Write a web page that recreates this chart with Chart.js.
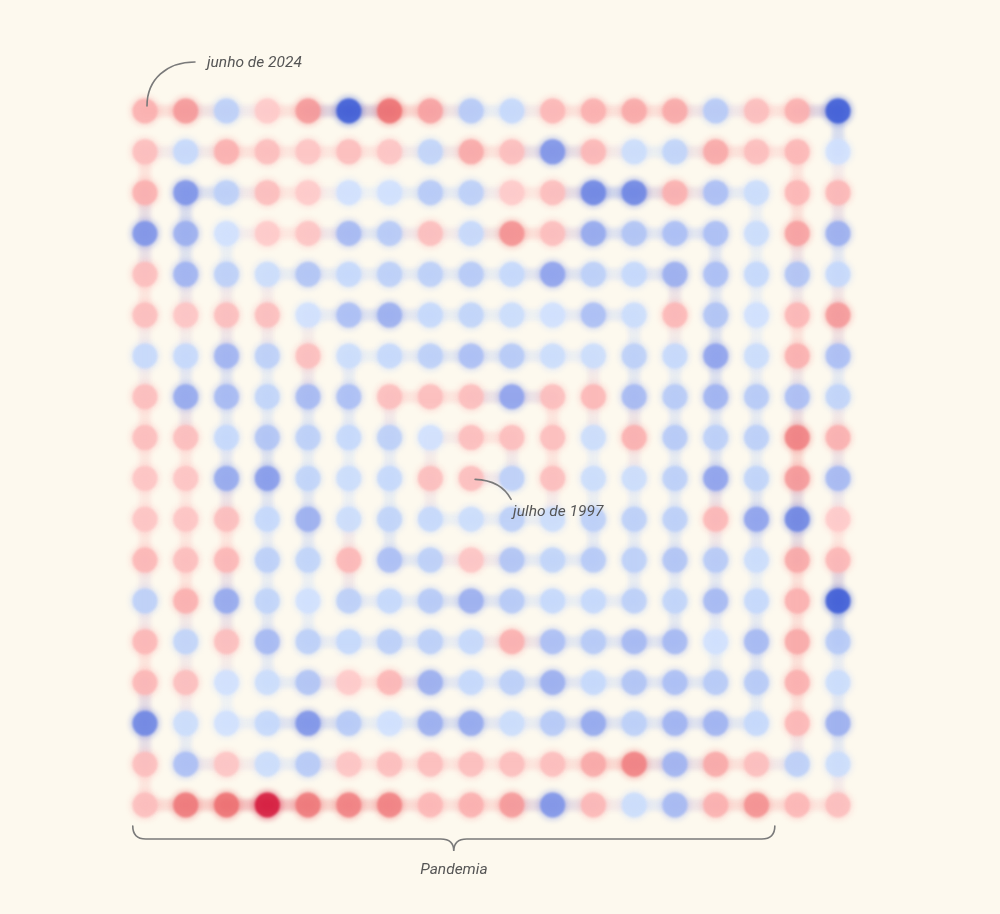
<!DOCTYPE html>
<html><head><meta charset="utf-8">
<script src="https://cdn.jsdelivr.net/npm/chart.js@4.4.1/dist/chart.umd.min.js"></script>
<style>
html,body{margin:0;padding:0;background:#fdf9ee;}
#wrap{position:relative;width:1000px;height:914px;overflow:hidden;}
#c{position:absolute;left:0;top:0;}
.lbl{position:absolute;font-family:Roboto,"Noto Sans",sans-serif;font-style:italic;font-size:15.5px;color:#555;white-space:nowrap;line-height:16px;}
</style></head><body>
<div id="wrap"><canvas id="c" width="1000" height="914"></canvas>
<div class="lbl" id="lblEnd">junho de 2024</div>
<div class="lbl" id="lblStart">julho de 1997</div>
<div class="lbl" id="lblPand">Pandemia</div>
</div>
<script>
// Labels
const firstMonth = "julho de 1997";
const lastMonth = "junho de 2024";
const pandemicLabel = "Pandemia";
// pandemic span, in grid columns of the bottom row
const pandemicCols = [-0.3, 15.45];

// Monthly values, laid out by grid row (top to bottom), columns left to right.
// positive = red (above), negative = blue (below)
const row00 = [1.2, 1.5, -1.2, 0.8, 1.5, -3.0, 2.0, 1.4, -1.3, -1.0, 1.1, 1.2, 1.3, 1.3, -1.3, 1.0, 1.2, -3.0];
const row01 = [1.0, -1.0, 1.2, 1.0, 0.9, 1.0, 0.9, -1.1, 1.3, 1.0, -2.2, 1.1, -0.9, -1.1, 1.3, 1.0, 1.1, -0.8];
const row02 = [1.2, -2.2, -1.2, 1.0, 0.8, -0.8, -0.8, -1.3, -1.2, 0.8, 1.0, -2.4, -2.4, 1.2, -1.5, -0.9, 1.1, 1.1];
const row03 = [-2.2, -1.8, -0.8, 0.8, 0.9, -1.6, -1.3, 1.0, -1.0, 1.6, 1.0, -1.9, -1.4, -1.5, -1.5, -0.9, 1.4, -1.8];
const row04 = [1.0, -1.7, -1.2, -0.9, -1.4, -1.0, -1.2, -1.2, -1.3, -1.0, -2.0, -1.2, -1.0, -1.8, -1.5, -1.0, -1.4, -1.0];
const row05 = [1.0, 0.9, 1.0, 1.0, -0.8, -1.5, -1.8, -1.0, -1.1, -0.9, -0.8, -1.5, -0.9, 1.1, -1.4, -0.8, 1.1, 1.5];
const row06 = [-1.0, -1.0, -1.7, -1.2, 1.0, -0.9, -1.0, -1.2, -1.5, -1.3, -0.9, -0.9, -1.2, -1.0, -2.0, -0.9, 1.2, -1.5];
const row07 = [1.0, -1.9, -1.6, -1.1, -1.6, -1.5, 1.0, 1.0, 1.0, -2.0, 1.0, 1.1, -1.6, -1.3, -1.7, -1.3, -1.5, -1.1];
const row08 = [1.0, 1.0, -1.0, -1.4, -1.2, -1.0, -1.2, -0.8, 1.0, 1.0, 1.0, -0.9, 1.2, -1.3, -1.2, -1.2, 1.8, 1.2];
const row09 = [0.9, 0.9, -1.9, -2.1, -1.1, -0.9, -1.0, 1.0, 1.0, -1.2, 1.0, -0.9, -0.9, -1.2, -2.0, -1.1, 1.5, -1.6];
const row10 = [0.9, 0.9, 1.0, -1.0, -1.8, -0.9, -1.1, -1.0, -0.9, -1.2, -0.9, -1.2, -1.2, -1.2, 1.1, -2.0, -2.4, 0.8];
const row11 = [1.1, 1.0, 1.1, -1.2, -1.1, 1.1, -1.5, -1.2, 0.9, -1.4, -1.1, -1.3, -1.2, -1.4, -1.3, -0.9, 1.3, 1.1];
const row12 = [-1.2, 1.2, -1.9, -1.1, -0.8, -1.2, -1.0, -1.3, -1.8, -1.3, -1.0, -1.0, -1.2, -1.1, -1.6, -1.0, 1.2, -3.0];
const row13 = [1.1, -1.1, 1.0, -1.6, -1.2, -1.0, -1.2, -1.2, -1.0, 1.2, -1.5, -1.3, -1.6, -1.6, -0.8, -1.6, 1.3, -1.3];
const row14 = [1.1, 1.0, -0.8, -0.9, -1.4, 0.8, 1.1, -1.8, -1.0, -1.2, -1.8, -1.0, -1.4, -1.5, -1.3, -1.3, 1.2, -0.9];
const row15 = [-2.4, -0.9, -0.8, -1.0, -2.2, -1.3, -0.8, -1.8, -1.9, -0.9, -1.3, -1.9, -1.2, -1.7, -1.7, -1.0, 1.1, -1.8];
const row16 = [1.0, -1.5, 0.9, -0.9, -1.3, 0.9, 1.0, 1.0, 1.0, 1.0, 1.0, 1.3, 1.8, -1.7, 1.3, 1.0, -1.2, -0.9];
const row17 = [1.0, 1.9, 2.0, 3.0, 1.9, 1.8, 1.8, 1.1, 1.2, 1.5, -2.2, 1.1, -0.9, -1.6, 1.2, 1.6, 1.1, 1.0];

const grid = [row00,row01,row02,row03,row04,row05,row06,row07,row08,row09,row10,row11,row12,row13,row14,row15,row16,row17];
const N = grid.length;

// square spiral from the centre (first month) outward to the top-left corner (last month)
function spiralCells(n, sx, sy){
  const dirs=[[1,0],[0,-1],[-1,0],[0,1]];
  const cells=[[sx,sy]]; let x=sx,y=sy,seg=0;
  while(cells.length<n){
    const len=Math.floor(seg/2)+1, d=dirs[seg%4];
    for(let k=0;k<len && cells.length<n;k++){ x+=d[0]; y+=d[1]; cells.push([x,y]); }
    seg++;
  }
  return cells;
}
const cells = spiralCells(N*N, Math.floor((N-1)/2), N/2);
const series = cells.map(([c,r]) => ({x:c, y:r, v:grid[r][c]}));

// diverging colour scale
const posStops=[[0.7,[255,207,207]],[1.2,[250,174,174]],[2.0,[236,110,112]],[3.0,[212,22,58]]];
const negStops=[[0.7,[212,229,255]],[1.2,[186,206,248]],[2.0,[140,160,236]],[3.0,[58,90,214]]];
function rgbOf(v){
  const s = v>=0?posStops:negStops, a=Math.abs(v);
  if(a<=s[0][0]) return s[0][1];
  for(let i=1;i<s.length;i++){
    if(a<=s[i][0]){ const t=(a-s[i-1][0])/(s[i][0]-s[i-1][0]);
      return s[i-1][1].map((c,j)=>Math.round(c+(s[i][1][j]-c)*t)); }
  }
  return s[s.length-1][1];
}
function col(v,a){ const c=rgbOf(v); return `rgba(${c[0]},${c[1]},${c[2]},${a})`; }
function mixCol(v1,v2,a){ const c1=rgbOf(v1),c2=rgbOf(v2); return `rgba(${(c1[0]+c2[0])>>1},${(c1[1]+c2[1])>>1},${(c1[2]+c2[2])>>1},${a})`; }

const blurs = {dots:'blur(1.1px)', halo:'blur(2.5px)', path:'blur(2px)'};
const blurPlugin = {
  id:'blur',
  beforeDatasetDraw(chart,args){ const f=blurs[chart.data.datasets[args.index].id]; chart.ctx.save(); if(f) chart.ctx.filter=f; },
  afterDatasetDraw(chart){ chart.ctx.restore(); }
};

const annPlugin = {
  id:'ann',
  afterDatasetsDraw(chart){
    const ctx=chart.ctx, xs=chart.scales.x, ys=chart.scales.y;
    ctx.save(); ctx.strokeStyle='#7a7a7a'; ctx.lineWidth=1.6; ctx.lineCap='round';
    // last month pointer
    const last=series[series.length-1];
    const ex=xs.getPixelForValue(last.x), ey=ys.getPixelForValue(last.y);
    ctx.beginPath(); ctx.moveTo(ex+2,ey-5); ctx.bezierCurveTo(ex+2,ey-32,ex+22,ey-49,ex+50,ey-49); ctx.stroke();
    // first month pointer
    const first=series[0];
    const sx=xs.getPixelForValue(first.x), sy=ys.getPixelForValue(first.y);
    ctx.beginPath(); ctx.moveTo(sx+4,sy+1); ctx.quadraticCurveTo(sx+30,sy+2,sx+40,sy+21); ctx.stroke();
    // pandemic brace
    const bx0=xs.getPixelForValue(pandemicCols[0]), bx1=xs.getPixelForValue(pandemicCols[1]);
    const by=ys.getPixelForValue(N-1), top=by+21, mid=by+34, tip=by+46, cx=(bx0+bx1)/2;
    ctx.beginPath(); ctx.moveTo(bx0,top); ctx.quadraticCurveTo(bx0,mid,bx0+13,mid); ctx.lineTo(cx-13,mid);
    ctx.quadraticCurveTo(cx,mid,cx,tip); ctx.quadraticCurveTo(cx,mid,cx+13,mid); ctx.lineTo(bx1-13,mid);
    ctx.quadraticCurveTo(bx1,mid,bx1,top); ctx.stroke();
    ctx.restore();
    // html labels
    const L=(id,l,t)=>{const e=document.getElementById(id); e.style.left=l+'px'; e.style.top=t+'px';};
    L('lblEnd', ex+62, ey-57);
    L('lblStart', sx+42, sy+25);
    const p=document.getElementById('lblPand'); p.style.left=(cx-p.offsetWidth/2)+'px'; p.style.top=(by+56)+'px';
  }
};

document.getElementById('lblEnd').textContent=lastMonth;
document.getElementById('lblStart').textContent=firstMonth;
document.getElementById('lblPand').textContent=pandemicLabel;

new Chart(document.getElementById('c'), {
  type:'scatter',
  data:{datasets:[
    {id:'dots', data:series, order:1, pointRadius:12.5, pointHoverRadius:12.5, borderWidth:0,
     pointBackgroundColor:c=>col(c.raw.v,0.86)},
    {id:'halo', data:series, order:2, pointRadius:15.5, pointHoverRadius:15.5, borderWidth:0,
     pointBackgroundColor:c=>col(c.raw.v,0.33)},
    {id:'path', data:series, order:3, showLine:true, pointRadius:0, borderWidth:12, borderCapStyle:'round',
     borderColor:'rgba(200,210,240,0.3)',
     segment:{borderColor:c=>mixCol(c.p0.raw.v,c.p1.raw.v,0.3)}}
  ]},
  options:{
    responsive:false, animation:false, events:[],
    layout:{padding:{left:124.6,right:141.6,top:90.6,bottom:88.6}},
    scales:{
      x:{type:'linear',min:-0.5,max:N-0.5,display:false},
      y:{type:'linear',min:-0.5,max:N-0.5,reverse:true,display:false}
    },
    plugins:{legend:{display:false},tooltip:{enabled:false}}
  },
  plugins:[blurPlugin,annPlugin]
});
</script>
</body></html>
